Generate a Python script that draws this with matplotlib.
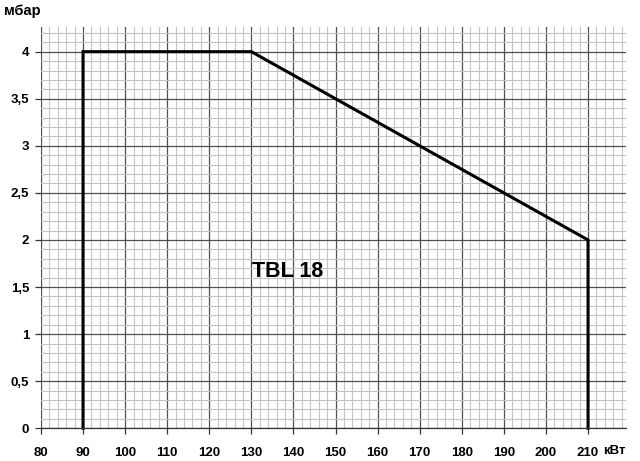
import numpy as np
import matplotlib.pyplot as plt

plt.rcParams['font.family'] = ['Liberation Sans', 'DejaVu Sans']

power_kw = [90, 90, 130, 210, 210]
pressure_mbar = [0, 4, 4, 2, 0]

x_ticks = [80, 90, 100, 110, 120, 130, 140, 150, 160, 170, 180, 190, 200, 210]
y_ticks = [0, 0.5, 1, 1.5, 2, 2.5, 3, 3.5, 4]
y_labels = ['0', '0,5', '1', '1,5', '2', '2,5', '3', '3,5', '4']

fig = plt.figure(figsize=(6.4, 4.61), dpi=100)
ax = fig.add_axes([0.064, 0.071, 0.914, 0.870])

ax.set_xlim(80, 219)
ax.set_ylim(0, 4.26)

ax.set_xticks(x_ticks)
ax.set_xticklabels([str(v) for v in x_ticks], fontweight='bold', fontsize=9.5)
ax.set_yticks(y_ticks)
ax.set_yticklabels(y_labels, fontweight='bold', fontsize=9.5)
ax.set_xticks(np.arange(80, 219, 2), minor=True)
ax.set_yticks(np.arange(0, 4.26, 0.1), minor=True)

ax.grid(which='major', color='#505050', linewidth=0.9)
ax.grid(which='minor', color='#c4c4c4', linewidth=0.8)
ax.set_axisbelow(True)

for s in ['top', 'right', 'left']:
    ax.spines[s].set_visible(False)
ax.spines['bottom'].set_color('#333333')
ax.spines['bottom'].set_linewidth(0.9)

ax.tick_params(which='major', length=4, width=0.9, color='#333333')
ax.tick_params(axis='x', which='major', pad=9.5)
ax.tick_params(axis='y', which='major', pad=4.5)
ax.tick_params(which='minor', length=0)

ax.plot(power_kw, pressure_mbar, color='black', linewidth=2.2, clip_on=False,
        solid_joinstyle='miter')

ax.text(138.5, 1.67, 'TBL 18', fontsize=15.5, fontweight='bold',
        ha='center', va='center')

fig.text(0.006, 0.976, 'мбар', fontsize=10.5, fontweight='bold', ha='left', va='center')
fig.text(0.942, 0.021, 'кВт', fontsize=9.5, fontweight='bold', ha='left', va='center')

plt.savefig('out.png', dpi=100)
